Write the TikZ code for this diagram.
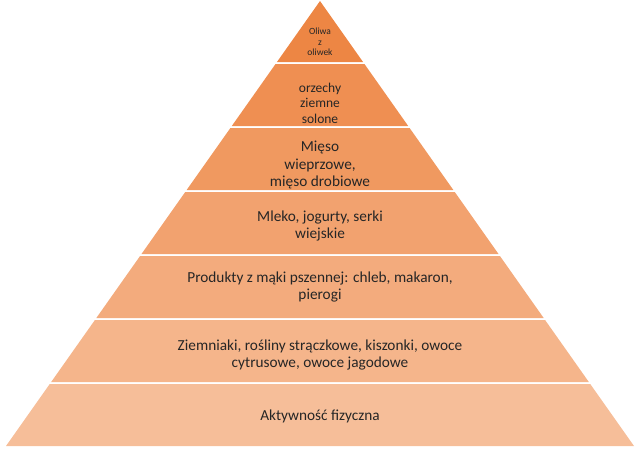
\documentclass[tikz,border=0pt]{standalone}
\usepackage{fontspec}
\setmainfont{Carlito}
\definecolor{lvlA}{RGB}{237,134,68}
\definecolor{lvlB}{RGB}{239,143,82}
\definecolor{lvlC}{RGB}{240,153,96}
\definecolor{lvlD}{RGB}{242,162,111}
\definecolor{lvlE}{RGB}{243,171,125}
\definecolor{lvlF}{RGB}{245,181,139}
\definecolor{lvlG}{RGB}{246,190,153}
\tikzstyle{label}=[align=center,text=black!85,font=\fontsize{15.3}{17.5}\selectfont]

\begin{document}
\begin{tikzpicture}[x=1pt,y=-1pt]

    \useasboundingbox (0,0) rectangle (640,451);

    % layers, apex at (320,1), base half width 314 at y=446
    \foreach \ytop/\ybot/\col in {1/62/lvlA, 64/126/lvlB, 128/190/lvlC,
                                  192/254/lvlD, 256/318/lvlE, 320/382/lvlF,
                                  384/446/lvlG} {
        \pgfmathsetmacro\wt{(\ytop-1)/445*314}
        \pgfmathsetmacro\wb{(\ybot-1)/445*314}
        \fill[\col] (320-\wt,\ytop) -- (320+\wt,\ytop)
                 -- (320+\wb,\ybot) -- (320-\wb,\ybot) -- cycle;
    }

    \node[label,font=\fontsize{9.5}{10.5}\selectfont] (oil)   at (320,42)  {Oliwa\\z\\oliwek};
    \node[label,font=\fontsize{13.5}{15.5}\selectfont] (nuts) at (320,103) {orzechy\\ziemne\\solone};
    \node[label] (meat)  at (320,165) {Mięso\\wieprzowe,\\mięso drobiowe};
    \node[label] (milk)  at (320,226) {Mleko, jogurty, serki\\wiejskie};
    \node[label] (wheat) at (320,287) {Produkty z mąki pszennej: chleb, makaron,\\pierogi};
    \node[label] (veg)   at (320,355) {Ziemniaki, rośliny strączkowe, kiszonki, owoce\\cytrusowe, owoce jagodowe};
    \node[label] (move)  at (320,416) {Aktywność fizyczna};

\end{tikzpicture}
\end{document}
